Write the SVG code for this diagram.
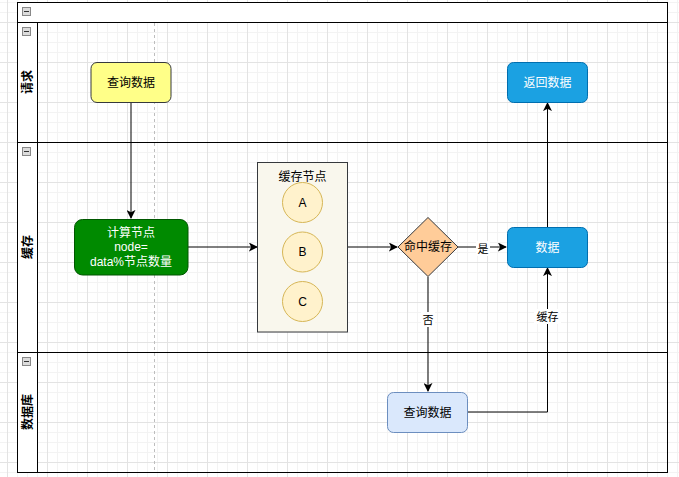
<svg xmlns="http://www.w3.org/2000/svg" width="679" height="477" viewBox="0 0 679 477">
<style>
text{font-family:"Liberation Sans","Noto Sans CJK SC",sans-serif;font-size:12px;text-anchor:middle;dominant-baseline:central;fill:#000}
.lane{fill:none;stroke:#000;stroke-width:1}
.hdr{fill:#fff;stroke:#000;stroke-width:1}
.lbl{font-weight:bold;font-size:12px}
.w{fill:#fff}
.e{fill:none;stroke:#000;stroke-width:1}
.el{font-size:11px}
.ico{fill:#dcdcdc;stroke:#888;stroke-width:1}
</style>
<defs>
<pattern id="grid" x="7" y="22" width="40" height="40" patternUnits="userSpaceOnUse">
<path d="M10.5 0V40M20.5 0V40M30.5 0V40M0 10.5H40M0 20.5H40M0 30.5H40" stroke="#f3f3f3" stroke-width="1" fill="none"/>
<path d="M0.5 0V40M0 0.5H40" stroke="#e3e3e3" stroke-width="1" fill="none"/>
</pattern>
<marker id="arr" viewBox="0 0 10 10" refX="9" refY="5" markerWidth="9" markerHeight="9" markerUnits="userSpaceOnUse" orient="auto">
<path d="M0 0L10 5L0 10L2.5 5Z" fill="#000"/>
</marker>
<g id="icon"><rect class="ico" x="0.5" y="0.5" width="8" height="8"/><path d="M2 4.5H7" stroke="#333" stroke-width="1"/></g>
</defs>
<rect width="679" height="477" fill="#fff"/>
<rect width="679" height="477" fill="url(#grid)"/>

<g id="pool">
<rect class="hdr" x="17.5" y="2.5" width="650" height="20"/>
<use href="#icon" x="22" y="7"/>
<rect class="lane" x="17.5" y="2.5" width="650" height="470"/>
</g>
<g id="lane-request">
<rect class="hdr" x="17.5" y="22.5" width="20" height="120"/>
<rect class="lane" x="17.5" y="22.5" width="650" height="120"/>
<use href="#icon" x="22" y="27"/>
<text class="lbl" transform="translate(27.5 82) rotate(-90)">请求</text>
</g>
<g id="lane-cache">
<rect class="hdr" x="17.5" y="142.5" width="20" height="210"/>
<rect class="lane" x="17.5" y="142.5" width="650" height="210"/>
<use href="#icon" x="22" y="147"/>
<text class="lbl" transform="translate(27.5 247) rotate(-90)">缓存</text>
</g>
<g id="lane-db">
<rect class="hdr" x="17.5" y="352.5" width="20" height="120"/>
<rect class="lane" x="17.5" y="352.5" width="650" height="120"/>
<use href="#icon" x="22" y="357"/>
<text class="lbl" transform="translate(27.5 412) rotate(-90)">数据库</text>
</g>

<path d="M154.5 23V472" stroke="#bdbdbd" stroke-width="1" stroke-dasharray="3 3" fill="none"/>

<g id="connectors">
<path class="e" d="M131 102V218" marker-end="url(#arr)"/>
<path class="e" d="M188 247H257" marker-end="url(#arr)"/>
<path class="e" d="M347 247H397" marker-end="url(#arr)"/>
<path class="e" d="M458 247H506" marker-end="url(#arr)"/>
<rect x="476" y="241" width="14" height="15" fill="#fff"/>
<text class="el" x="483" y="248.5">是</text>
<path class="e" d="M428 277V391" marker-end="url(#arr)"/>
<rect x="421" y="312" width="14" height="15" fill="#fff"/>
<text class="el" x="428" y="319.5">否</text>
<path class="e" d="M467 412H547.5V268" marker-end="url(#arr)"/>
<rect x="534" y="309" width="27" height="15" fill="#fff"/>
<text class="el" x="547.5" y="316.5">缓存</text>
<path class="e" d="M547.5 227V103" marker-end="url(#arr)"/>
</g>

<g id="query">
<rect x="91" y="62.5" width="80" height="40" rx="6" fill="#ffff88" stroke="#36393d"/>
<text x="131" y="82.5">查询数据</text>
</g>
<g id="compute">
<rect x="74.5" y="219.5" width="113.5" height="55.5" rx="8" fill="#008a00" stroke="#005700"/>
<text class="w" x="131" y="232.5">计算节点</text>
<text class="w" x="131" y="247">node=</text>
<text class="w" x="131" y="261.5">data%节点数量</text>
</g>
<g id="cache-nodes">
<rect x="257.5" y="162.5" width="90" height="169.5" fill="#f9f7ed" stroke="#36393d"/>
<text x="302.5" y="176.5">缓存节点</text>
</g>
<g id="node-a">
<circle cx="302.5" cy="202.5" r="20" fill="#fff2cc" stroke="#d6b656"/>
<text x="302.5" y="202.5">A</text>
</g>
<g id="node-b">
<circle cx="302.5" cy="252" r="20" fill="#fff2cc" stroke="#d6b656"/>
<text x="302.5" y="252">B</text>
</g>
<g id="node-c">
<circle cx="302.5" cy="301.5" r="20" fill="#fff2cc" stroke="#d6b656"/>
<text x="302.5" y="301.5">C</text>
</g>
<g id="hit">
<path d="M428 217.5L458 247L428 276.5L398 247Z" fill="#ffcc99" stroke="#36393d"/>
<text x="428" y="247">命中缓存</text>
</g>
<g id="data">
<rect x="507.5" y="227.5" width="80" height="40" rx="6" fill="#1ba1e2" stroke="#006eaf"/>
<text class="w" x="547.5" y="247.5">数据</text>
</g>
<g id="return">
<rect x="507.5" y="62.5" width="80" height="40" rx="6" fill="#1ba1e2" stroke="#006eaf"/>
<text class="w" x="547.5" y="82.5">返回数据</text>
</g>
<g id="db-query">
<rect x="387.5" y="392.5" width="80" height="40" rx="6" fill="#dae8fc" stroke="#6c8ebf"/>
<text x="427.5" y="412.5">查询数据</text>
</g>
</svg>
